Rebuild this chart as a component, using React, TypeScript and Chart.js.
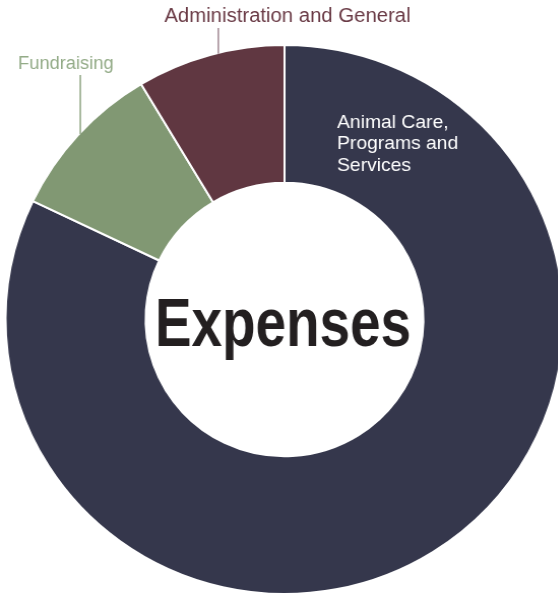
import React, { useEffect, useRef } from "react";
import { Chart, registerables } from "chart.js";

Chart.register(...registerables);

const categories = ["Animal Care, Programs and Services", "Fundraising", "Administration and General"];
const expenseShares = [82.1, 9.3, 8.6];
const sliceColors = ["#35374c", "#819873", "#603741"];
const animalCareLines = ["Animal Care,", "Programs and", "Services"];
const centerTitle = "Expenses";

const CANVAS_W = 560;
const CANVAS_H = 639;
const CSS_W = 569;
const SX = CSS_W / CANVAS_W;

const labelPlugin = {
  id: "expenseLabels",
  afterDatasetsDraw(chart: any) {
    const ctx = chart.ctx as CanvasRenderingContext2D;
    const arcs = chart.getDatasetMeta(0).data as any[];
    if (!arcs.length) return;
    const cx = arcs[0].x;
    const cy = arcs[0].y;
    const R = arcs[0].outerRadius - 1;
    ctx.save();

    // centre title, condensed to the width of the original
    ctx.fillStyle = "#231f20";
    ctx.font = "bold 68px 'Liberation Sans', Arial, sans-serif";
    ctx.textAlign = "center";
    ctx.textBaseline = "alphabetic";
    const w = ctx.measureText(centerTitle).width;
    const targetW = 256 / SX;
    const k = targetW / w;
    ctx.save();
    ctx.translate(cx - 1.5 / SX, cy + 26.5);
    ctx.scale(k, 1);
    ctx.fillText(centerTitle, 0, 0);
    ctx.restore();

    // Animal care label inside the big slice
    ctx.fillStyle = "#ffffff";
    ctx.font = "19px 'Liberation Sans', Arial, sans-serif";
    ctx.textAlign = "left";
    ctx.textBaseline = "middle";
    const ys = [122.7, 144.2, 165.7];
    animalCareLines.forEach((t, i) => ctx.fillText(t, 337 / SX, ys[i]));

    // Administration label + leader
    ctx.fillStyle = "#6a3b46";
    ctx.font = "20px 'Liberation Sans', Arial, sans-serif";
    ctx.textAlign = "center";
    ctx.fillText(categories[2], 287.5 / SX, 16);
    const ax = 218.3 / SX;
    const ay = cy - Math.sqrt(R * R - (ax - cx) * (ax - cx));
    ctx.strokeStyle = "#a08892";
    ctx.lineWidth = 1.5;
    ctx.beginPath();
    ctx.moveTo(ax, 28);
    ctx.lineTo(ax, ay);
    ctx.stroke();

    // Fundraising label + leader
    ctx.fillStyle = "#93ab87";
    ctx.font = "18px 'Liberation Sans', Arial, sans-serif";
    ctx.fillText(categories[1], 65.8 / SX, 64);
    const fx = 80.3 / SX;
    const fy = cy - Math.sqrt(R * R - (fx - cx) * (fx - cx));
    ctx.strokeStyle = "#8ea482";
    ctx.beginPath();
    ctx.moveTo(fx, 75);
    ctx.lineTo(fx, fy);
    ctx.stroke();

    ctx.restore();
  },
};

export default function App() {
  const canvasRef = useRef<HTMLCanvasElement | null>(null);

  useEffect(() => {
    if (!canvasRef.current) return;
    const chart = new Chart(canvasRef.current, {
      type: "doughnut",
      data: {
        labels: categories,
        datasets: [
          {
            data: expenseShares,
            backgroundColor: sliceColors,
            borderColor: "#ffffff",
            borderWidth: 2,
            hoverOffset: 0,
          },
        ],
      },
      options: {
        responsive: false,
        animation: false,
        devicePixelRatio: 1,
        radius: 274.5,
        cutout: "49.8%",
        rotation: 0,
        layout: { padding: 0 },
        plugins: {
          legend: { display: false },
          tooltip: { enabled: false },
        },
      },
      plugins: [labelPlugin],
    });
    return () => chart.destroy();
  }, []);

  return (
    <div
      style={{
        position: "fixed",
        left: 0,
        top: 0,
        width: 558,
        height: 595,
        overflow: "hidden",
        background: "#ffffff",
      }}
    >
      <canvas
        ref={canvasRef}
        width={CANVAS_W}
        height={CANVAS_H}
        style={{ position: "absolute", left: 0, top: 0, width: CSS_W, height: CANVAS_H }}
      />
    </div>
  );
}
